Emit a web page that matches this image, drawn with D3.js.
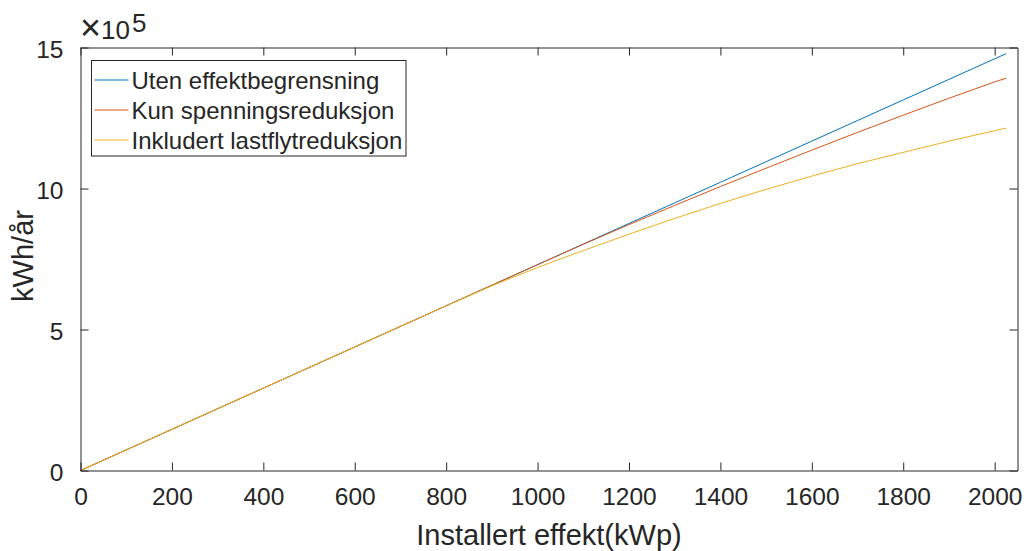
<!DOCTYPE html>
<html>
<head>
<meta charset="utf-8">
<script src="https://cdn.jsdelivr.net/npm/d3@7"></script>
<style>
  body { margin: 0; background: #fff; }
  svg text { font-family: "Liberation Sans", Arial, sans-serif; fill: #262626; }
</style>
</head>
<body>
<svg id="canvas" width="1027" height="551"></svg>
<script>
// Installed power (kWp)
const effekt = [0, 100, 200, 300, 400, 500, 600, 700, 800, 900, 1000,
  1100, 1200, 1300, 1400, 1500, 1600, 1700, 1800, 1900, 2000, 2025];

// Yearly energy (kWh/år) for each case
const utenBegrensning = [0, 73000, 146000, 219000, 292000, 365000, 438000, 511000,
  584000, 657000, 730000, 803000, 876000, 949000, 1022000, 1095000, 1168000,
  1241000, 1314000, 1387000, 1460000, 1478000];
const kunSpenning = [0, 73000, 146000, 219000, 292000, 365000, 438000, 511000,
  584000, 657000, 730000, 802000, 872000, 940000, 1007000, 1072000, 1136000,
  1199000, 1260000, 1320000, 1378000, 1391000];
const inklLastflyt = [0, 73000, 146000, 219000, 292000, 365000, 438000, 511000,
  584000, 655000, 720000, 780000, 838000, 894000, 947000, 997000, 1044000,
  1088000, 1128000, 1168000, 1205000, 1214000];

const seriesNames = ["Uten effektbegrensning", "Kun spenningsreduksjon", "Inkludert lastflytreduksjon"];
const seriesValues = [utenBegrensning, kunSpenning, inklLastflyt];
const colors = ["#0072BD", "#D95319", "#EDB120"];

const xTicks = [0, 200, 400, 600, 800, 1000, 1200, 1400, 1600, 1800, 2000];
const yTicks = [0, 500000, 1000000, 1500000];

const svg = d3.select("#canvas");
const [ml, mr, mt, mb] = [80.5, 1017.5, 47.5, 470.5];

const x = d3.scaleLinear().domain([0, 2050]).range([ml, mr]);
const y = d3.scaleLinear().domain([0, 1500000]).range([mb, mt]);

// Lines
const line = d3.line().x((d) => x(d[0])).y((d) => y(d[1]));
svg.append("g")
  .selectAll("path")
  .data(seriesValues)
  .enter()
  .append("path")
  .attr("d", (vals) => line(effekt.map((e, i) => [e, vals[i]])))
  .attr("fill", "none")
  .attr("stroke", (d, i) => colors[i])
  .attr("stroke-width", 1);

// Axes (inward ticks, box on)
const tick = 8;
const axisBottom = d3.axisBottom(x).tickValues(xTicks).tickSizeInner(-tick).tickSizeOuter(0)
  .tickPadding(tick + 17).tickFormat(d3.format("d"));
const axisTop = d3.axisTop(x).tickValues(xTicks).tickSizeInner(-tick).tickSizeOuter(0).tickFormat("");
const axisLeft = d3.axisLeft(y).tickValues(yTicks).tickSizeInner(-tick).tickSizeOuter(0)
  .tickPadding(tick + 9).tickFormat((d) => d / 1e5);
const axisRight = d3.axisRight(y).tickValues(yTicks).tickSizeInner(-tick).tickSizeOuter(0).tickFormat("");

const styleAxis = (g) => {
  g.select(".domain").attr("stroke", "#262626");
  g.selectAll(".tick line").attr("stroke", "#262626");
  g.selectAll(".tick text")
    .attr("font-size", 24.5)
    .attr("font-family", "Liberation Sans, Arial, sans-serif")
    .attr("fill", "#262626");
};

svg.append("g").attr("transform", `translate(0,${mb})`).call(axisBottom).call(styleAxis)
  .selectAll(".tick text").attr("dy", "0.4em");
svg.append("g").attr("transform", `translate(0,${mt})`).call(axisTop).call(styleAxis);
svg.append("g").attr("transform", `translate(${ml},0)`).call(axisLeft).call(styleAxis)
  .selectAll(".tick text").attr("dy", "0.42em");
svg.append("g").attr("transform", `translate(${mr},0)`).call(axisRight).call(styleAxis);

// Exponent label
const expo = svg.append("text").attr("x", 80).attr("y", 39).attr("font-size", 26);
expo.append("tspan").attr("font-size", 36).attr("dy", 1).text("\u00d7");
expo.append("tspan").attr("dy", -1).text("10");
expo.append("tspan").attr("dx", 2).attr("dy", -7).text("5");

// Axis labels
svg.append("text")
  .attr("x", (ml + mr) / 2)
  .attr("y", 545)
  .attr("text-anchor", "middle")
  .attr("font-size", 29)
  .text("Installert effekt(kWp)");

svg.append("text")
  .attr("transform", "translate(33,256) rotate(-90)")
  .attr("text-anchor", "middle")
  .attr("font-size", 29)
  .text("kWh/år");

// Legend
const legend = svg.append("g").attr("transform", "translate(91.5,60.5)");
legend.append("rect")
  .attr("width", 314.5)
  .attr("height", 95.5)
  .attr("fill", "#fff")
  .attr("stroke", "#262626")
  .attr("stroke-width", 1);

const item = legend.selectAll("g.item")
  .data(seriesNames)
  .enter()
  .append("g")
  .attr("class", "item")
  .attr("transform", (d, i) => `translate(0,${19.5 + 30 * i})`);

item.append("line")
  .attr("x1", 3).attr("x2", 37)
  .attr("stroke", (d, i) => colors[i])
  .attr("stroke-width", 1);

item.append("text")
  .attr("x", 40)
  .attr("dy", "0.36em")
  .attr("font-size", 24)
  .text((d) => d);
</script>
</body>
</html>
